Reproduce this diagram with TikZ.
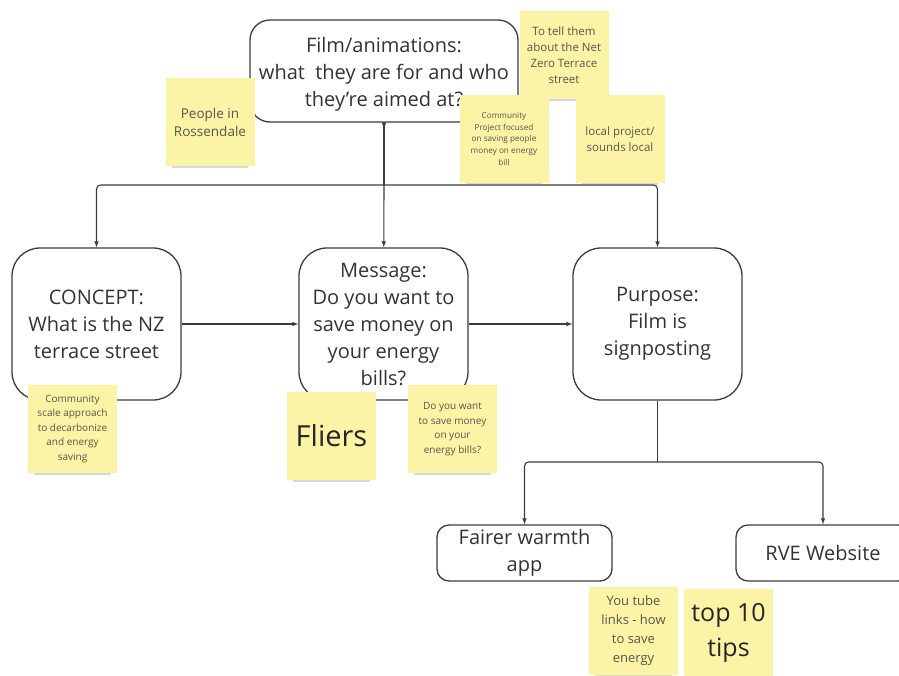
\documentclass[tikz,border=0pt]{standalone}
\usepackage{fontspec}
\setmainfont{Open Sans}
\usetikzlibrary{arrows,shadows}
\definecolor{boxline}{HTML}{3C3C3C}
\definecolor{boxtext}{HTML}{333333}
\definecolor{stickyfill}{HTML}{FBF3A6}
\definecolor{stickytext}{HTML}{57574A}
\tikzset{
  >=latex,
  {block/.style} ={draw=boxline, line width=1.3pt, rounded corners=#1,
                   align=center, text=boxtext, inner sep=0pt,
                   font=\fontsize{20}{27}\selectfont},
  block/.default = 28pt,
  {sticky/.style} ={fill=stickyfill, align=center, text=stickytext,
                    inner sep=1pt, minimum width=89pt, minimum height=88pt,
                    drop shadow={shadow xshift=0pt, shadow yshift=-9pt,
                                 shadow scale=0.86, opacity=.3}},
  {wire/.style} ={draw=boxline, line width=1.1pt, rounded corners=4pt},
}
\begin{document}
\begin{tikzpicture}[x=1pt,y=-1pt]
    \useasboundingbox (0,0) rectangle (899,675);
    % main boxes
    \node[block=20pt, minimum width=268pt, minimum height=102pt] (film) at (384,71)
      {\rule{0pt}{21pt}Film/animations:\\what~ they are for and who\\they’re aimed at?};
    \node[block, minimum width=169pt, minimum height=152pt] (concept) at (96.5,324)
      {CONCEPT:\\What is the NZ\\terrace street};
    \node[block, minimum width=169pt, minimum height=152pt] (message) at (383.5,324)
      {Message:\\Do you want to\\save money on\\your energy\\bills?};
    \node[block, minimum width=169pt, minimum height=152pt] (purpose) at (657.5,324)
      {Purpose:\\Film is\\signposting};
    \node[block=12pt, minimum width=175pt, minimum height=56pt] (fairer) at (524.5,553)
      {Fairer warmth\\app};
    \node[block=12pt, minimum width=174pt, minimum height=56pt] (rve) at (823,553)
      {RVE Website};
    \coordinate (split) at (384,185);
    \coordinate (split2) at (657.5,462);

    % connectors
    \draw[wire, latex reversed-] (film) -- (split);
    \draw[wire,->] (split) -| (concept);
    \draw[wire,->] (split) -- (message);
    \draw[wire,->] (split) -| (purpose);
    \draw[wire,->] (concept) -- (message);
    \draw[wire,->] (message) -- (purpose);
    \draw[wire] (purpose) -- (split2);
    \draw[wire,->] (split2) -| (fairer);
    \draw[wire,->] (split2) -| (rve);

    % sticky notes
    \node[sticky, font=\fontsize{13.5}{18}\selectfont] (people) at (210,122)
      {People in\\Rossendale};
    \node[sticky, font=\fontsize{11.5}{16}\selectfont] (tell) at (564,55)
      {To tell them\\about the Net\\Zero Terrace\\street};
    \node[sticky, font=\fontsize{8.2}{11.8}\selectfont] (project) at (504,139)
      {Community\\Project focused\\on saving people\\money on energy\\bill};
    \node[sticky, font=\fontsize{11.5}{16}\selectfont] (local) at (620,139)
      {local project/\\sounds local};
    \node[sticky, font=\fontsize{10}{14.5}\selectfont] (scale) at (72.5,429)
      {Community\\scale approach\\to decarbonize\\and energy\\saving};
    \node[sticky, font=\fontsize{29}{35}\selectfont, text=black!85] (fliers) at (331.5,436)
      {Fliers};
    \node[sticky, font=\fontsize{10}{14.5}\selectfont] (want) at (452.5,429)
      {Do you want\\to save money\\on your\\energy bills?};
    \node[sticky, font=\fontsize{13}{19}\selectfont] (youtube) at (633.5,631)
      {You tube\\links - how\\to save\\energy};
    \node[sticky, font=\fontsize{25}{35}\selectfont, text=black!85] (tips) at (728.5,633)
      {top 10\\tips};
\end{tikzpicture}
\end{document}
